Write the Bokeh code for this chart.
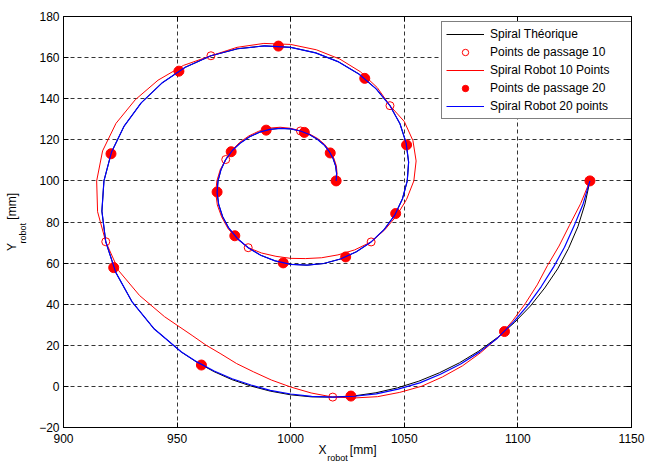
from bokeh.plotting import figure
from bokeh.models import Range1d, FixedTicker, LinearAxis, Legend, LegendItem
from bokeh.embed import file_html
from bokeh.resources import INLINE

# ---------------- data ----------------
theo_x = [1020.0, 1020.2, 1019.8, 1018.7, 1017.0, 1014.7, 1011.7, 1008.2, 1004.3, 1000.0,
          995.5, 990.9, 986.3, 981.9, 977.9, 974.3, 971.4, 969.3, 968.0, 967.6,
          968.3, 970.0, 972.7, 976.5, 981.3, 986.8, 993.1, 1000.0, 1007.2, 1014.6,
          1021.9, 1028.9, 1035.4, 1041.1, 1045.8, 1049.2, 1051.3, 1051.9, 1050.8, 1048.1,
          1043.7, 1037.6, 1030.0, 1021.1, 1011.0, 1000.0, 988.4, 976.6, 964.9, 953.6,
          943.3, 934.2, 926.7, 921.1, 917.8, 916.9, 918.6, 923.0, 930.1, 939.7,
          951.9, 958.8, 966.2, 974.1, 982.4, 991.0, 1000.0, 1009.2, 1018.5, 1028.0,
          1037.5, 1047.0, 1056.3, 1065.4, 1074.3, 1082.8, 1090.9, 1098.5, 1105.5, 1111.8,
          1117.5, 1122.3, 1126.4, 1129.5, 1131.7]
theo_y = [100.0, 103.6, 107.2, 110.8, 114.3, 117.5, 120.3, 122.6, 124.3, 125.3,
          125.6, 125.1, 123.7, 121.5, 118.5, 114.8, 110.4, 105.4, 100.0, 94.3,
          88.5, 82.7, 77.1, 72.0, 67.5, 63.8, 61.1, 59.4, 59.0, 59.8,
          62.0, 65.5, 70.3, 76.3, 83.3, 91.3, 100.0, 109.1, 118.5, 127.8,
          136.6, 144.8, 152.0, 157.9, 162.3, 165.0, 165.7, 164.3, 160.9, 155.3,
          147.6, 138.0, 126.7, 113.9, 100.0, 85.3, 70.4, 55.5, 41.3, 28.2,
          16.7, 11.7, 7.2, 3.3, 0.2, -2.3, -4.1, -5.1, -5.2, -4.6,
          -3.1, -0.7, 2.5, 6.6, 11.5, 17.2, 23.7, 31.1, 39.1, 47.9,
          57.2, 67.2, 77.7, 88.7, 100.0]

robot10_x = [1020.0, 1020.4, 1020.1, 1019.0, 1017.3, 1014.9, 1011.9, 1008.3, 1004.3, 1000.0,
             995.4, 990.7, 986.0, 981.6, 977.6, 974.1, 971.4, 969.0, 967.5, 967.0,
             967.7, 969.6, 972.4, 976.4, 981.3, 987.2, 993.5, 1000.0, 1006.6, 1013.6,
             1020.8, 1028.1, 1035.4, 1041.4, 1046.6, 1051.0, 1054.2, 1055.2, 1053.8, 1050.0,
             1043.7, 1038.1, 1030.7, 1021.6, 1011.3, 1000.0, 988.2, 976.4, 964.9, 952.8,
             941.6, 931.6, 923.1, 917.2, 914.6, 915.0, 918.6, 924.3, 933.5, 944.5,
             956.6, 962.7, 969.3, 976.2, 983.6, 991.5, 1000.0, 1009.0, 1018.5, 1028.3,
             1038.2, 1048.0, 1057.7, 1066.8, 1075.6, 1083.6, 1091.1, 1097.6, 1103.3, 1108.5,
             1113.0, 1118.1, 1122.7, 1127.6, 1131.7]
robot10_y = [100.0, 103.6, 107.3, 111.0, 114.6, 117.8, 120.6, 122.8, 124.3, 125.6,
             126.1, 125.7, 124.2, 121.9, 118.8, 114.9, 110.4, 105.5, 100.0, 94.2,
             88.3, 82.5, 76.8, 71.8, 67.5, 64.9, 63.3, 62.3, 62.2, 62.6,
             64.0, 66.4, 70.3, 76.2, 83.0, 91.0, 100.0, 109.7, 119.6, 128.9,
             136.6, 145.4, 153.1, 159.3, 163.8, 166.4, 166.9, 165.0, 160.9, 156.2,
             149.0, 139.5, 128.0, 114.6, 100.0, 85.0, 70.4, 56.3, 44.2, 33.9,
             24.8, 20.1, 15.8, 11.1, 7.1, 3.1, -0.3, -3.2, -5.2, -5.6,
             -5.0, -2.9, 0.1, 4.6, 10.0, 16.4, 23.6, 31.8, 40.4, 49.4,
             58.8, 68.3, 78.4, 88.9, 100.0]

robot20_x = [1020.0, 1020.2, 1019.8, 1018.7, 1017.0, 1014.7, 1011.7, 1008.2, 1004.3, 1000.0,
             995.5, 990.9, 986.3, 981.9, 977.9, 974.3, 971.4, 969.3, 968.0, 967.6,
             968.3, 970.0, 972.7, 976.5, 981.3, 986.8, 993.1, 1000.0, 1007.2, 1014.6,
             1021.9, 1028.9, 1035.4, 1041.1, 1045.8, 1049.2, 1051.3, 1051.9, 1050.8, 1048.1,
             1043.7, 1037.6, 1030.0, 1021.1, 1011.0, 1000.0, 988.4, 976.6, 964.9, 953.6,
             943.3, 934.2, 926.7, 921.1, 917.8, 916.9, 918.6, 923.0, 930.1, 939.7,
             951.9, 958.9, 966.3, 974.2, 982.5, 991.0, 1000.0, 1009.2, 1018.5, 1028.1,
             1037.7, 1047.3, 1056.8, 1065.9, 1074.8, 1083.2, 1091.1, 1098.1, 1104.5, 1110.3,
             1115.6, 1120.5, 1124.7, 1128.7, 1131.7]
robot20_y = [100.0, 103.6, 107.2, 110.8, 114.3, 117.5, 120.3, 122.6, 124.3, 125.3,
             125.6, 125.1, 123.7, 121.5, 118.5, 114.8, 110.4, 105.4, 100.0, 94.3,
             88.5, 82.7, 77.1, 72.0, 67.5, 63.8, 61.1, 59.4, 59.0, 59.8,
             62.0, 65.5, 70.3, 76.3, 83.3, 91.3, 100.0, 109.1, 118.5, 127.8,
             136.6, 144.8, 152.0, 157.9, 162.3, 165.0, 165.7, 164.3, 160.9, 155.3,
             147.6, 138.0, 126.7, 113.9, 100.0, 85.3, 70.4, 55.5, 41.3, 28.2,
             16.7, 11.8, 7.5, 3.7, 0.7, -1.9, -3.7, -4.9, -5.2, -4.8,
             -3.6, -1.3, 1.7, 5.9, 10.9, 16.8, 23.6, 31.4, 39.7, 48.6,
             57.9, 67.7, 78.0, 88.8, 100.0]

pass10_x = [1020.0, 1004.3, 971.4, 981.3, 1035.4, 1043.7, 964.9, 918.6, 1018.5, 1131.7]
pass10_y = [100.0, 124.3, 110.4, 67.5, 70.3, 136.6, 160.9, 70.4, -5.2, 100.0]

pass20_x = [1020.0, 1017.4, 1006.0, 989.2, 973.8, 967.6, 975.4, 996.7, 1024.2, 1046.2,
            1051.0, 1032.6, 994.6, 950.8, 920.9, 922.1, 960.7, 1026.5, 1094.1, 1131.7]
pass20_y = [100.0, 113.6, 123.6, 124.7, 114.2, 94.6, 73.3, 60.1, 63.0, 84.1,
            117.5, 149.9, 165.6, 153.4, 113.2, 57.8, 10.4, -4.7, 26.7, 100.0]

x_ticks = [900, 950, 1000, 1050, 1100, 1150]
y_ticks = [-20, 0, 20, 40, 60, 80, 100, 120, 140, 160, 180]

legend_labels = ["Spiral Théorique", "Points de passage 10", "Spiral Robot 10 Points",
                 "Points de passage 20", "Spiral Robot 20 points"]

NB = "\u00a0"
x_title_main = "X" + NB * 7 + "[mm]"
y_title_main = "Y" + NB * 7 + "[mm]"
x_title_sub = "robot" + NB * 8
y_title_sub = "robot" + NB * 9

FONT = "Liberation Sans"

# ---------------- figure ----------------
p = figure(frame_width=568, frame_height=411,
           x_range=Range1d(900, 1150), y_range=Range1d(-20, 180),
           output_backend="svg", toolbar_location=None,
           min_border_left=63, min_border_right=15, min_border_top=16, min_border_bottom=37,
           background_fill_color="white", border_fill_color="white")
p.outline_line_color = "black"
p.outline_line_width = 1

for ax in (p.xaxis[0], p.yaxis[0]):
    ax.axis_line_color = "black"
    ax.major_tick_in = 5
    ax.major_tick_out = 0
    ax.major_tick_line_color = "black"
    ax.minor_tick_line_color = None
    ax.major_label_text_font = FONT
    ax.major_label_text_font_size = "12px"
    ax.major_label_text_color = "black"
    ax.axis_label_text_font = FONT
    ax.axis_label_text_font_style = "normal"
    ax.axis_label_text_color = "black"
p.xaxis[0].ticker = FixedTicker(ticks=x_ticks)
p.yaxis[0].ticker = FixedTicker(ticks=y_ticks)
p.xaxis[0].major_label_standoff = 6
p.yaxis[0].major_label_standoff = 4

# x title: main part on the x axis itself, subscript on an extra (tick-less) axis
p.xaxis[0].axis_label = x_title_main
p.xaxis[0].axis_label_text_font_size = "12px"
p.xaxis[0].axis_label_standoff = -3


def title_axis(text, size, standoff):
    return LinearAxis(ticker=FixedTicker(ticks=[]), axis_label=text,
                      axis_label_text_font=FONT, axis_label_text_font_size=size,
                      axis_label_text_font_style="normal", axis_label_text_color="black",
                      axis_label_standoff=standoff, axis_line_color=None,
                      major_tick_line_color=None, minor_tick_line_color=None,
                      major_tick_in=0, major_tick_out=0, major_label_standoff=0,
                      major_label_text_font_size="0px")


p.add_layout(title_axis(x_title_sub, "9px", -7), "below")
# y title: subscript next to the tick labels, main part further out
p.add_layout(title_axis(y_title_sub, "9px", 9), "left")
p.add_layout(title_axis(y_title_main, "12px", -4), "left")

# inward ticks on top and right (box on)
for ticks, side in ((x_ticks, "above"), (y_ticks, "right")):
    ax = LinearAxis(ticker=FixedTicker(ticks=ticks), major_tick_in=5, major_tick_out=0,
                    minor_tick_line_color=None, major_label_text_color=None,
                    major_label_text_font_size="0px", major_label_standoff=0,
                    axis_line_color=None, major_tick_line_color="black")
    p.add_layout(ax, side)

for g in (p.xgrid[0], p.ygrid[0]):
    g.grid_line_color = "black"
    g.grid_line_dash = "4 3"
    g.grid_line_width = 0.8
p.xgrid[0].ticker = FixedTicker(ticks=x_ticks)
p.ygrid[0].ticker = FixedTicker(ticks=y_ticks)

# ---------------- data renderers ----------------
r_theo = p.line(theo_x, theo_y, line_color="black", line_width=1)
r_p10 = p.scatter(pass10_x, pass10_y, marker="circle", size=8, fill_color=None,
                  line_color="red", line_width=1)
r_rob10 = p.line(robot10_x, robot10_y, line_color="red", line_width=1)
r_p20 = p.scatter(pass20_x, pass20_y, marker="circle", size=10, fill_color="red",
                  line_color="red", line_width=1)
r_rob20 = p.line(robot20_x, robot20_y, line_color="blue", line_width=1.2)

items = [LegendItem(label=lab, renderers=[r]) for lab, r in
         zip(legend_labels, [r_theo, r_p10, r_rob10, r_p20, r_rob20])]
legend = Legend(items=items, location=(378, 308), padding=4, spacing=2,
                label_height=16, glyph_height=16, glyph_width=38, label_standoff=6,
                label_width=137, label_text_font=FONT, label_text_font_size="12px",
                label_text_color="black", border_line_color="black", border_line_width=1,
                background_fill_color="white", background_fill_alpha=1.0, margin=0)
p.add_layout(legend)

open("out.html", "w").write(file_html(p, INLINE))
